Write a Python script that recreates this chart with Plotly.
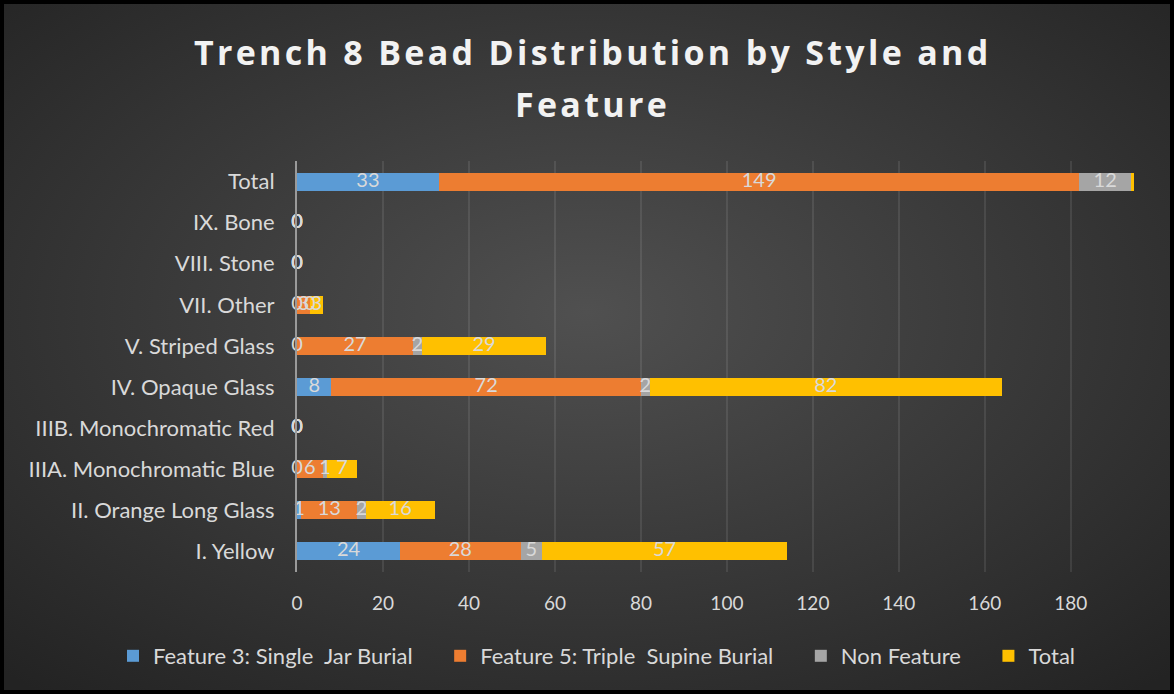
import base64
import plotly.graph_objects as go

categories = ["I. Yellow", "II. Orange Long Glass", "IIIA. Monochromatic Blue",
              "IIIB. Monochromatic Red", "IV. Opaque Glass", "V. Striped Glass",
              "VII. Other", "VIII. Stone", "IX. Bone", "Total"]
feature3 = [24, 1, 0, 0, 8, 0, 0, 0, 0, 33]
feature5 = [28, 13, 6, 0, 72, 27, 3, 0, 0, 149]
non_feature = [5, 2, 1, 0, 2, 2, 0, 0, 0, 12]
total = [57, 16, 7, 0, 82, 29, 3, 0, 0, 194]
series_names = ["Feature 3: Single\u00a0 Jar Burial", "Feature 5: Triple\u00a0 Supine Burial",
                "Non Feature", "Total"]
colors = ["#5B9BD5", "#ED7D31", "#A5A5A5", "#FFC000"]
x_ticks = [0, 20, 40, 60, 80, 100, 120, 140, 160, 180]
title_lines = ["Trench 8 Bead Distribution by Style and", "Feature"]

W, H = 1174, 694
L, R, T, B = 297, 40, 161, 122
PW, PH = W - L - R, H - T - B
X_MAX = 194.7
LEGEND_PAD = "\u00a0" * 4   # extra spacing between legend entries

FONT = "Lato"
series = [feature3, feature5, non_feature, total]

fig = go.Figure()
for name, vals, col in zip(series_names, series, colors):
    fig.add_trace(go.Bar(y=categories, x=vals, name=name + LEGEND_PAD, orientation="h",
                         marker=dict(color=col, line=dict(width=0)),
                         hovertemplate="%{x}<extra>" + name + "</extra>"))

# data labels centred in each segment (only those inside the plot area)
lx, ly, lt = [], [], []
for i, cat in enumerate(categories):
    base = 0
    for vals in series:
        v = vals[i]
        mid = base + v / 2
        if mid <= X_MAX:
            lx.append(mid)
            ly.append(cat)
            lt.append(str(v))
        base += v
fig.add_trace(go.Scatter(x=lx, y=ly, text=lt, mode="text", showlegend=False,
                         textfont=dict(family=FONT, size=20, color="#d9d9d9"),
                         hoverinfo="skip", cliponaxis=False))

svg = (f'<svg xmlns="http://www.w3.org/2000/svg" width="{W}" height="{H}">'
       '<defs><radialGradient id="g" cx="50%" cy="45%" r="72%">'
       '<stop offset="0" stop-color="#505050"/><stop offset="1" stop-color="#232323"/>'
       '</radialGradient></defs>'
       f'<rect width="{W}" height="{H}" fill="url(#g)"/></svg>')
src = "data:image/svg+xml;base64," + base64.b64encode(svg.encode()).decode()

annotations = []
for line, ypx in zip(title_lines, [52, 104]):
    annotations.append(dict(text=f'<span style="letter-spacing:3.3px">{line}</span>',
                            xref="paper", yref="paper",
                            x=(592 - L) / PW, y=(T + PH - ypx) / PH,
                            xanchor="center", yanchor="middle", showarrow=False,
                            font=dict(family="Open Sans", size=34, color="#f2f2f2",
                                      weight="bold")))

fig.update_layout(
    width=W, height=H,
    margin=dict(l=L, r=R, t=T, b=B, pad=0, autoexpand=False),
    barmode="stack", bargap=0.56,
    paper_bgcolor="#2a2a2a", plot_bgcolor="rgba(0,0,0,0)",
    font=dict(family=FONT, color="#d9d9d9", size=20),
    annotations=annotations,
    images=[dict(source=src, xref="paper", yref="paper",
                 x=-L / PW, y=1 + T / PH, sizex=W / PW, sizey=H / PH,
                 xanchor="left", yanchor="top", sizing="stretch", layer="below")],
    shapes=[dict(type="rect", xref="paper", yref="paper",
                 x0=(2 - L) / PW, x1=(W - 2 - L) / PW,
                 y0=(T + PH - (H - 2)) / PH, y1=(T + PH - 2) / PH,
                 line=dict(color="black", width=4), fillcolor="rgba(0,0,0,0)",
                 layer="above")],
    xaxis=dict(range=[0, X_MAX], tickvals=x_ticks, showgrid=True,
               gridcolor="rgba(255,255,255,0.09)", gridwidth=1.5,
               zeroline=False, showline=False, ticks="",
               tickfont=dict(family=FONT, size=19, color="#d9d9d9"),
               ticklabelstandoff=18, fixedrange=True),
    yaxis=dict(categoryorder="array", categoryarray=categories,
               showgrid=False, zeroline=False, showline=True,
               linecolor="#9a9a9a", linewidth=2, ticks="",
               tickfont=dict(family=FONT, size=22, color="#d9d9d9"),
               ticklabelstandoff=16, fixedrange=True),
    legend=dict(orientation="h", x=(113 - L) / PW, xanchor="left",
                y=(T + PH - 656) / PH, yanchor="middle",
                font=dict(family=FONT, size=22, color="#d9d9d9"),
                bgcolor="rgba(0,0,0,0)", traceorder="normal"),
)

fig.write_html("out.html", config={"displayModeBar": False},
               post_script="document.body.style.margin='0';")
